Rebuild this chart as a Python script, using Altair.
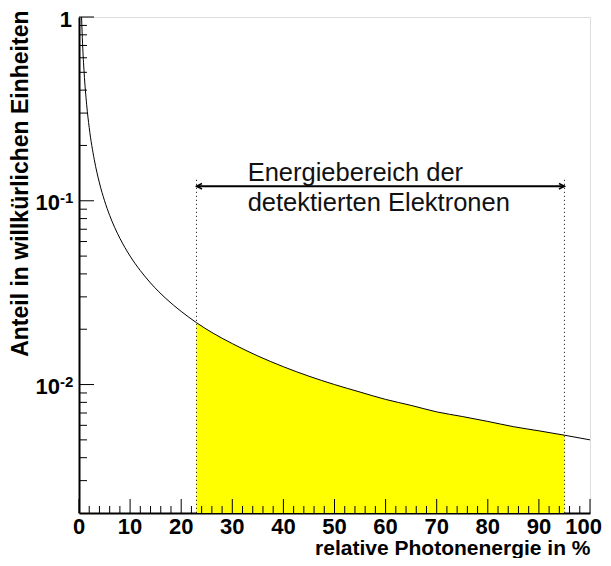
import altair as alt
import pandas as pd

# curve values
photon_x = [0.5, 0.7, 1, 1.5, 2, 3, 4, 5, 6, 7, 8, 10, 12, 14, 17, 20, 23, 26, 30,
            35, 40, 45, 50, 55, 60, 65, 70, 75, 80, 85, 90, 95, 100]
anteil_y = [1.0, 0.714, 0.5, 0.333, 0.25, 0.167, 0.125, 0.1, 0.0833, 0.0714, 0.0625,
            0.05, 0.0417, 0.0357, 0.0294, 0.025, 0.0217, 0.0192, 0.0167, 0.0143, 0.0125,
            0.0111, 0.01, 0.0091, 0.0083, 0.0077, 0.0071, 0.0067, 0.0063, 0.0059,
            0.0056, 0.0053, 0.005]

range_lo = 23
range_hi = 95
arrow_level = 0.12
dotted_top = 0.13
y_min, y_max = 0.002, 1

x_major = [0, 10, 20, 30, 40, 50, 60, 70, 80, 90, 100]
x_minor = [v for v in range(0, 101, 2) if v % 10 != 0]
y_major = [0.01, 0.1, 1]
y_minor = [0.003, 0.004, 0.005, 0.006, 0.007, 0.008, 0.009,
           0.02, 0.03, 0.04, 0.05, 0.06, 0.07, 0.08, 0.09,
           0.2, 0.3, 0.4, 0.5, 0.6, 0.7, 0.8, 0.9]

label_lines = ["Energiebereich der", "detektierten Elektronen"]
label_x = 33
label_y = [0.128, 0.0883]

X_TITLE = "relative Photonenergie in %"
Y_TITLE = "Anteil in willkürlichen Einheiten"

W, H = 511, 496
FONT = "Liberation Sans"

curve = pd.DataFrame({"x": photon_x, "y": anteil_y})
sel = [(a, b) for a, b in zip(photon_x, anteil_y) if range_lo <= a <= range_hi]
area_df = pd.DataFrame({"x": [a for a, _ in sel], "y": [b for _, b in sel],
                        "base": [y_min] * len(sel)})

xs = alt.Scale(domain=[0, 100], nice=False, zero=False)
ys = alt.Scale(type="log", domain=[y_min, y_max], nice=False)

AX = alt.Axis(
    values=x_major, grid=False, ticks=False, tickSize=0, labels=False,
    domainColor="black", domainWidth=2,
    title=X_TITLE, titleFont=FONT, titleFontSize=21,
    titleFontWeight="bold", titleColor="black", titleAlign="right",
    titleBaseline="alphabetic", titleX=W, titleY=41)
AY = alt.Axis(
    values=y_major, grid=False, ticks=False, tickSize=0, labels=False,
    domainColor="black", domainWidth=2,
    title=Y_TITLE, titleFont=FONT, titleFontSize=23,
    titleFontWeight="bold", titleColor="black", titleAngle=270,
    titleAlign="right", titleBaseline="alphabetic", titleX=-52, titleY=-7)


def X(f):
    return alt.X(f, scale=xs, axis=AX, title=X_TITLE)


def Y(f):
    return alt.Y(f, scale=ys, axis=AY, title=Y_TITLE)


area = alt.Chart(area_df).mark_area(color="#ffff00", interpolate="monotone", opacity=1).encode(
    x=X("x:Q"), y=Y("y:Q"), y2="base:Q",
)

line = alt.Chart(curve).mark_line(color="black", strokeWidth=1, interpolate="monotone").encode(
    x=X("x:Q"), y=Y("y:Q"),
)

edges = pd.DataFrame({"x": [range_lo, range_hi], "top": [dotted_top, dotted_top],
                      "base": [y_min, y_min]})
dotted = alt.Chart(edges).mark_rule(color="black", strokeWidth=1, strokeDash=[1, 3]).encode(
    x=X("x:Q"), y=Y("top:Q"), y2="base:Q",
)

arrow_df = pd.DataFrame({"x": [range_lo], "x2": [range_hi], "y": [arrow_level]})
arrow = alt.Chart(arrow_df).mark_rule(color="black", strokeWidth=2).encode(
    x=X("x:Q"), x2="x2:Q", y=Y("y:Q"),
)
heads_l = pd.DataFrame({"x": [range_lo], "y": [arrow_level]})
heads_r = pd.DataFrame({"x": [range_hi], "y": [arrow_level]})
head_l = alt.Chart(heads_l).mark_point(
    shape="M 2 -1 L 0 0 L 2 1", filled=False, stroke="black", strokeWidth=1.5,
    size=30, opacity=1).encode(x=X("x:Q"), y=Y("y:Q"))
head_r = alt.Chart(heads_r).mark_point(
    shape="M -2 -1 L 0 0 L -2 1", filled=False, stroke="black", strokeWidth=1.5,
    size=30, opacity=1).encode(x=X("x:Q"), y=Y("y:Q"))

xt_major = alt.Chart(pd.DataFrame({"v": x_major})).mark_rule(color="black", strokeWidth=1).encode(
    x=X("v:Q"), y=alt.value(H), y2=alt.value(H - 14))
xt_minor = alt.Chart(pd.DataFrame({"v": x_minor})).mark_rule(color="black", strokeWidth=1).encode(
    x=X("v:Q"), y=alt.value(H), y2=alt.value(H - 7))
yt_major = alt.Chart(pd.DataFrame({"v": y_major})).mark_rule(color="black", strokeWidth=1).encode(
    y=Y("v:Q"), x=alt.value(0), x2=alt.value(15))
yt_minor = alt.Chart(pd.DataFrame({"v": y_minor})).mark_rule(color="black", strokeWidth=1).encode(
    y=Y("v:Q"), x=alt.value(0), x2=alt.value(8))

# x tick labels
xlab_df = pd.DataFrame({"v": x_major[:-1], "t": [str(v) for v in x_major[:-1]]})
xlab = alt.Chart(xlab_df).mark_text(
    font=FONT, fontWeight="bold", fontSize=22, align="center", baseline="alphabetic",
    color="black").encode(x=X("v:Q"), y=alt.value(H + 21), text="t:N")
xlab_last = alt.Chart(pd.DataFrame({"v": x_major[-1:], "t": [str(x_major[-1])]})).mark_text(
    font=FONT, fontWeight="bold", fontSize=22, align="right", baseline="alphabetic",
    dx=12, color="black").encode(x=X("v:Q"), y=alt.value(H + 21), text="t:N")

# y tick labels (10 with superscript exponent)
ylab_one = alt.Chart(pd.DataFrame({"v": [1], "t": ["1"]})).mark_text(
    font=FONT, fontWeight="bold", fontSize=22, align="right", baseline="alphabetic",
    dy=10, color="black").encode(y=Y("v:Q"), x=alt.value(-7), text="t:N")
ylab_ten = alt.Chart(pd.DataFrame({"v": [0.1, 0.01], "t": ["10", "10"]})).mark_text(
    font=FONT, fontWeight="bold", fontSize=22, align="right", baseline="alphabetic",
    dy=9, color="black").encode(y=Y("v:Q"), x=alt.value(-19), text="t:N")
ylab_exp = alt.Chart(pd.DataFrame({"v": [0.1, 0.01], "t": ["-1", "-2"]})).mark_text(
    font=FONT, fontWeight="bold", fontSize=15, align="left", baseline="alphabetic",
    dy=2, color="black").encode(y=Y("v:Q"), x=alt.value(-19), text="t:N")

note = alt.Chart(pd.DataFrame({"x": [label_x, label_x], "y": label_y, "t": label_lines})).mark_text(
    font=FONT, fontSize=25.5, align="left", baseline="alphabetic", color="#111").encode(
    x=X("x:Q"), y=Y("y:Q"), text="t:N")

chart = alt.layer(
    area, dotted, line, xt_major, xt_minor, yt_major, yt_minor,
    arrow, head_l, head_r, note, xlab, xlab_last, ylab_one, ylab_ten, ylab_exp,
).properties(
    width=W, height=H,
    autosize=alt.AutoSizeParams(type="none"),
    padding={"left": 71, "top": 9, "right": 13, "bottom": 45},
).configure_view(stroke="black", strokeWidth=1.5).configure(background="white")

chart.save("out.html", embed_options={"renderer": "svg", "actions": False})
